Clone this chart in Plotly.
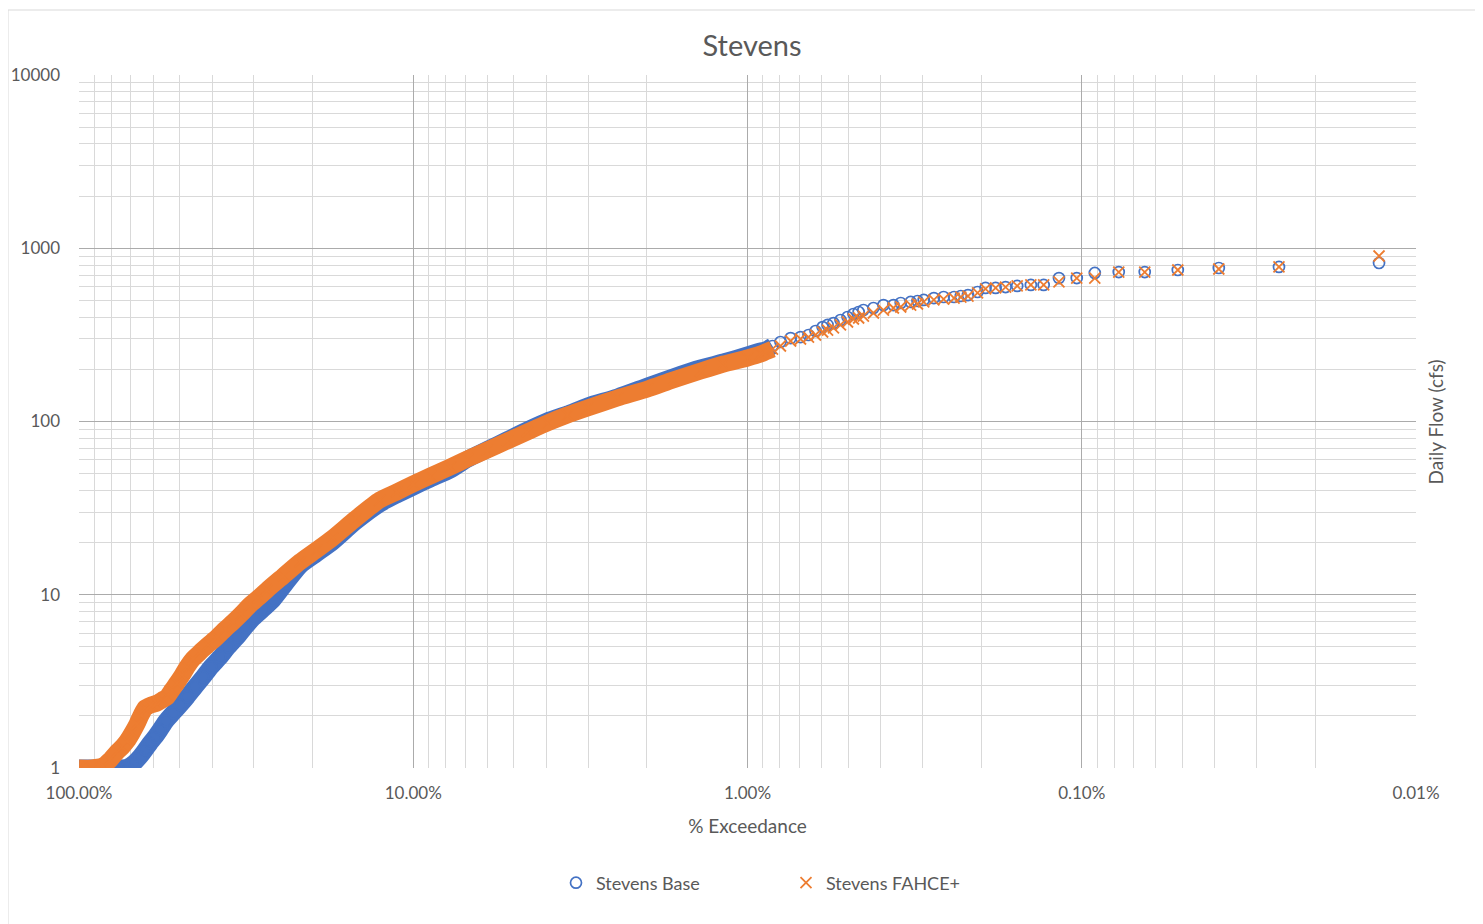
import plotly.graph_objects as go

# % exceedance / daily flow (cfs)
base_exceed = [100, 89.6, 80.8, 75.4, 71.8, 68.4, 65.7, 63.4, 61.3, 59.2, 57.2, 54.9,
               52.3, 49.8, 47.5, 45.0, 42.5, 40.3, 37.8, 35.8, 33.6, 31.8, 30.1, 28.1,
               26.3, 24.0, 21.8, 19.5, 17.4, 14.9, 12.6, 11.2, 10.0, 8.89, 7.75, 6.89,
               6.00, 5.23, 4.56, 3.97, 3.46, 3.01, 2.45, 1.99, 1.67, 1.38, 1.18, 1.0,
               0.914,
               0.884, 0.842, 0.797, 0.743, 0.694, 0.657, 0.626, 0.596, 0.576, 0.553,
               0.527, 0.502, 0.482, 0.465, 0.450, 0.420, 0.392, 0.366, 0.348, 0.325,
               0.310, 0.297, 0.277, 0.259, 0.241, 0.230, 0.219, 0.205,
               0.194, 0.181, 0.169, 0.156, 0.142, 0.130, 0.117, 0.1035, 0.0914, 0.0775,
               0.0648, 0.0516, 0.0389, 0.0257, 0.0129]
base_flow = [1.0, 1.0, 1.0, 1.0, 1.01, 1.07, 1.16, 1.27, 1.39, 1.51, 1.66, 1.87,
             2.08, 2.31, 2.57, 2.93, 3.35, 3.83, 4.37, 4.99, 5.70, 6.51, 7.34, 8.27,
             9.33, 11.7, 14.7, 17.2, 20.2, 26.3, 33.4, 37.7, 41.9, 46.6, 52.5, 60.5,
             69.0, 78.5, 89.3, 100.7, 110.5, 122.9, 138.5, 160.3, 180.7, 203.6, 220.5, 242.0,
             255.2,
             258.6, 272.8, 287.7, 303, 307, 315.7, 333, 351, 361, 370,
             385.3, 401.1, 417.4, 428.6, 440, 452, 470, 470, 483.1, 490,
             496, 503, 516, 523, 523, 530, 537, 559,
             590, 590, 597, 606, 614, 614, 673, 673, 720, 729,
             729, 749, 769, 780, 822]

fahce_exceed = [100, 91.4, 84.7, 80.8, 76.9, 74.3, 71.8, 69.4, 67.0, 65.2, 63.4, 60.9,
                58.4, 56.4, 54.5, 52.7, 50.9, 49.1, 47.5, 45.6, 43.4, 41.1, 38.6, 36.5,
                34.6, 32.7, 30.8, 29.1, 27.4, 24.5, 21.8, 19.5, 17.4, 14.9, 12.6, 11.2,
                10.0, 8.89, 7.75, 6.89, 6.00, 5.23, 4.56, 3.97, 3.46, 3.01, 2.45, 1.99,
                1.67, 1.38, 1.18, 1.0, 0.914,
                0.884, 0.842, 0.797, 0.743, 0.694, 0.657, 0.626, 0.596, 0.576, 0.553,
                0.527, 0.502, 0.482, 0.465, 0.450, 0.420, 0.392, 0.366, 0.348, 0.325,
                0.310, 0.297, 0.277, 0.259, 0.241, 0.230, 0.219, 0.205,
                0.194, 0.181, 0.169, 0.156, 0.142, 0.130, 0.117, 0.1035, 0.0914, 0.0775,
                0.0648, 0.0516, 0.0389, 0.0257, 0.0129]
fahce_flow = [1.0, 1.0, 1.03, 1.11, 1.24, 1.32, 1.43, 1.59, 1.80, 2.02, 2.22, 2.31,
              2.37, 2.47, 2.57, 2.82, 3.10, 3.44, 3.83, 4.26, 4.67, 5.13, 5.70, 6.34,
              6.96, 7.74, 8.73, 9.58, 10.65, 12.8, 15.5, 18.1, 21.3, 27.4, 35.2, 39.2,
              43.6, 48.5, 54.6, 60.8, 68.5, 77.2, 87.0, 98.0, 109.0, 119.7, 136.6, 154,
              173.6, 195.6, 214.7, 232.6, 245,
              252, 262, 272.8, 291.5, 299.4, 307, 315.7, 328.6, 337, 347,
              361, 375.2, 390.5, 395.8, 406, 423, 440, 452, 458, 470,
              476.7, 490, 503, 509, 516, 523, 530, 552,
              582, 590, 597, 606, 614, 614, 639, 673, 673, 729,
              729, 749, 759, 780, 902]

x_ticks = [100, 10, 1, 0.1, 0.01]
x_labels = ['100.00%', '10.00%', '1.00%', '0.10%', '0.01%']
y_ticks = [1, 10, 100, 1000, 10000]
y_labels = ['1', '10', '100', '1000', '10000']

BLUE = '#4472C4'
ORANGE = '#ED7D31'
FONT = 'Lato'
GREY_TXT = '#595959'

minor_x = [m * 10 ** e for e in range(-2, 2) for m in range(2, 10)]
minor_y = [m * 10 ** e for e in range(0, 4) for m in range(2, 10)]


def dense(xs, ys, cut=0.8):
    # the part of the curve where the markers pile up into a solid band
    pts = [(a, b) for a, b in zip(xs, ys) if a >= cut]
    return [p[0] for p in pts], [p[1] for p in pts]


fig = go.Figure()

bx, by = dense(base_exceed, base_flow)
fig.add_trace(go.Scatter(x=bx, y=by, mode='lines',
                         line=dict(color=BLUE, width=17, shape='spline', smoothing=0.6),
                         showlegend=False, hoverinfo='skip'))
fig.add_trace(go.Scatter(x=base_exceed, y=base_flow, mode='markers', name='Stevens Base',
                         marker=dict(symbol='circle-open', size=11, color=BLUE,
                                     line=dict(width=1.7, color=BLUE))))

fx, fy = dense(fahce_exceed, fahce_flow)
fig.add_trace(go.Scatter(x=fx, y=fy, mode='lines',
                         line=dict(color=ORANGE, width=17, shape='spline', smoothing=0.6),
                         showlegend=False, hoverinfo='skip'))
fig.add_trace(go.Scatter(x=fahce_exceed, y=fahce_flow, mode='markers', name='Stevens FAHCE+',
                         marker=dict(symbol='x-thin-open', size=11, color=ORANGE,
                                     line=dict(width=1.8, color=ORANGE))))

fig.update_xaxes(
    type='log', range=[2, -2], tickvals=x_ticks, ticktext=x_labels, automargin=False,
    showgrid=True, gridcolor='#ababab', gridwidth=1, zeroline=False,
    showline=False, ticks='', ticklabelstandoff=13,
    tickfont=dict(family=FONT, size=17, color=GREY_TXT),
    minor=dict(tickvals=minor_x, showgrid=True, gridcolor='#d9d9d9', gridwidth=1, ticks=''),
    title=dict(text='% Exceedance', font=dict(family=FONT, size=19, color=GREY_TXT), standoff=17),
)
fig.update_yaxes(
    type='log', range=[0, 4], tickvals=y_ticks, ticktext=y_labels, automargin=False,
    showgrid=True, gridcolor='#ababab', gridwidth=1, zeroline=False,
    showline=False, ticks='', ticklabelstandoff=18,
    tickfont=dict(family=FONT, size=17, color=GREY_TXT),
    minor=dict(tickvals=minor_y, showgrid=True, gridcolor='#d9d9d9', gridwidth=1, ticks=''),
)

fig.add_annotation(text='Daily Flow (cfs)', textangle=-90, xref='paper', yref='paper',
                   x=1.0 + (1435 - 1416) / 1337, y=0.5, xanchor='center', yanchor='middle',
                   showarrow=False, font=dict(family=FONT, size=19, color=GREY_TXT))

# outer chart border + the thin rule along the top of the sheet
fig.add_shape(type='rect', xref='paper', yref='paper',
              x0=(8 - 79) / 1337, x1=1.2, y0=-0.4, y1=(768 - 10) / 693,
              line=dict(color='#d9d9d9', width=1), layer='below')
fig.add_shape(type='line', xref='paper', yref='paper',
              x0=-0.1, x1=1.1, y0=(768 - 1) / 693, y1=(768 - 1) / 693,
              line=dict(color='#e0e0e0', width=2), layer='below')

fig.update_layout(
    width=1483, height=924,
    margin=dict(l=71, r=75, t=67, b=164),
    paper_bgcolor='white', plot_bgcolor='white',
    title=dict(text='Stevens', x=744 / 1483, xanchor='center', y=1 - 38 / 924, yanchor='middle',
               font=dict(family=FONT, size=29, color=GREY_TXT)),
    legend=dict(orientation='h', x=(556 - 79) / 1337, xanchor='left',
                y=(768 - 883) / 693, yanchor='middle',
                font=dict(family=FONT, size=18, color=GREY_TXT), entrywidth=185,
                entrywidthmode='pixels'),
    showlegend=True,
)

fig.write_html('out.html')
